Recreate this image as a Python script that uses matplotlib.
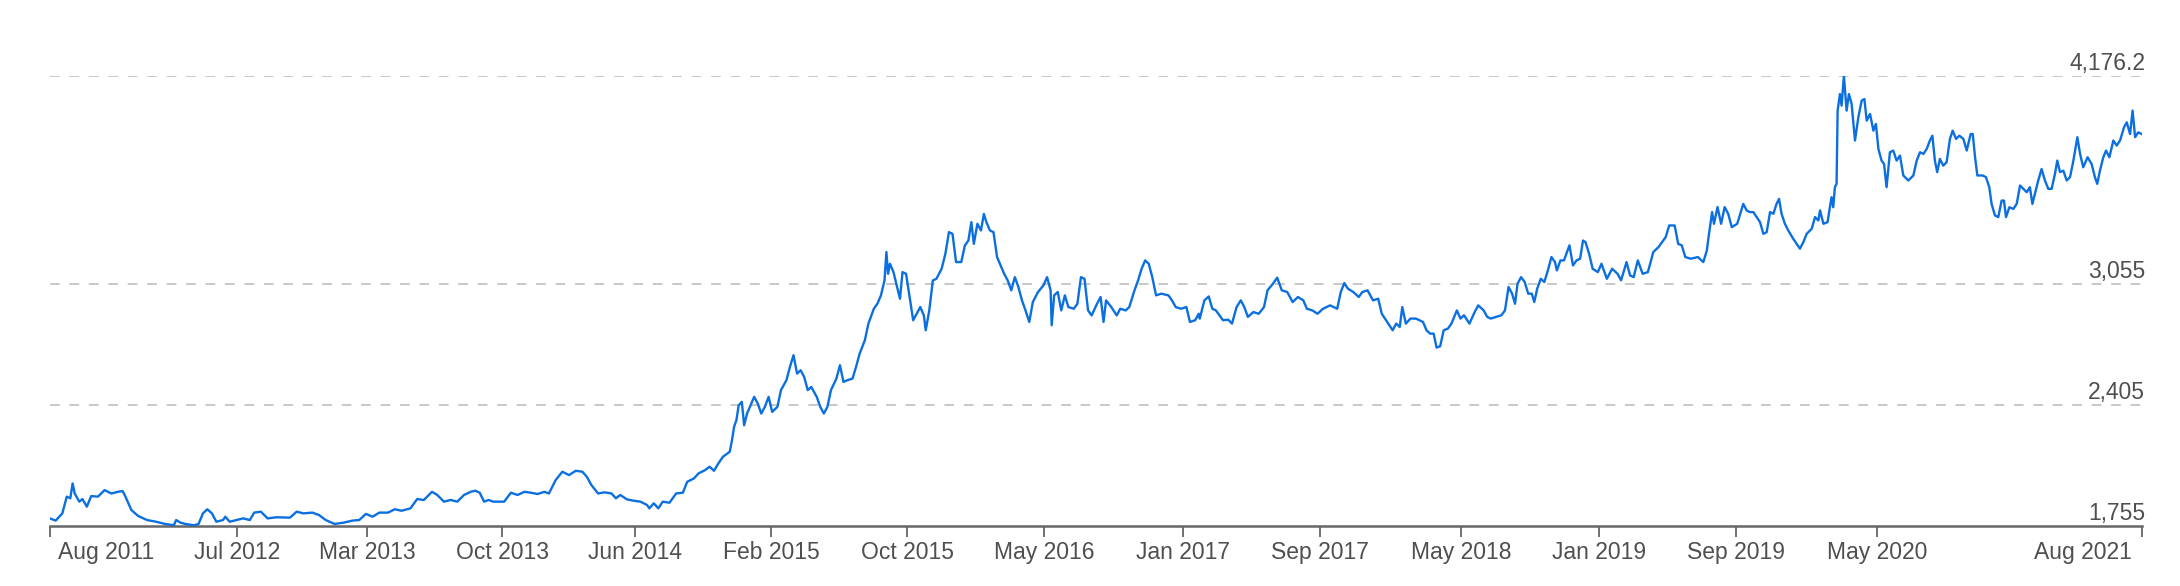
import matplotlib
matplotlib.use("Agg")
import matplotlib.pyplot as plt
from matplotlib.transforms import ScaledTranslation, blended_transform_factory

plt.rcParams['font.family'] = ['Liberation Sans', 'DejaVu Sans']

# series: time as decimal year, index level
years = [
    2011.591, 2011.619, 2011.651, 2011.672, 2011.689, 2011.700, 2011.710, 2011.732, 2011.747, 2011.768,
    2011.789, 2011.821, 2011.853, 2011.885, 2011.917, 2011.939, 2011.949, 2011.981, 2012.013, 2012.056,
    2012.099, 2012.142, 2012.184, 2012.195, 2012.216, 2012.238, 2012.280, 2012.302, 2012.323, 2012.344,
    2012.366, 2012.387, 2012.419, 2012.430, 2012.451, 2012.483, 2012.515, 2012.547, 2012.568, 2012.600,
    2012.632, 2012.675, 2012.739, 2012.771, 2012.803, 2012.846, 2012.878, 2012.910, 2012.952, 2012.995,
    2013.038, 2013.070, 2013.102, 2013.134, 2013.166, 2013.208, 2013.240, 2013.272, 2013.315, 2013.347,
    2013.379, 2013.418, 2013.443, 2013.475, 2013.507, 2013.539, 2013.571, 2013.603, 2013.625, 2013.646,
    2013.667, 2013.689, 2013.710, 2013.763, 2013.795, 2013.827, 2013.860, 2013.891, 2013.923, 2013.955,
    2013.977, 2014.009, 2014.041, 2014.073, 2014.105, 2014.137, 2014.158, 2014.180, 2014.212, 2014.244,
    2014.276, 2014.297, 2014.318, 2014.350, 2014.382, 2014.414, 2014.446, 2014.457, 2014.478, 2014.500,
    2014.521, 2014.553, 2014.585, 2014.617, 2014.638, 2014.670, 2014.692, 2014.724, 2014.745, 2014.766,
    2014.787, 2014.809, 2014.841, 2014.852, 2014.862, 2014.873, 2014.884,
    2014.899, 2014.910, 2014.924, 2014.958, 2014.975, 2014.992, 2015.009, 2015.027, 2015.044, 2015.069,
    2015.086, 2015.112, 2015.129, 2015.146, 2015.163, 2015.180, 2015.197, 2015.214, 2015.231, 2015.257,
    2015.274, 2015.291, 2015.308, 2015.325, 2015.351, 2015.368, 2015.385, 2015.402, 2015.428, 2015.445,
    2015.462, 2015.487, 2015.504, 2015.530, 2015.547, 2015.564, 2015.581, 2015.590, 2015.598, 2015.607,
    2015.624, 2015.641, 2015.655, 2015.667, 2015.684, 2015.701, 2015.718, 2015.735, 2015.752, 2015.769,
    2015.778, 2015.795, 2015.812, 2015.829, 2015.854, 2015.872, 2015.889, 2015.906, 2015.923, 2015.948,
    2015.965, 2015.982, 2015.996, 2016.008, 2016.025, 2016.042, 2016.056, 2016.068, 2016.085, 2016.102,
    2016.119, 2016.136, 2016.153, 2016.170, 2016.187, 2016.204, 2016.221, 2016.238, 2016.255, 2016.273,
    2016.290, 2016.315, 2016.341, 2016.358, 2016.375, 2016.380, 2016.392, 2016.409, 2016.426, 2016.443,
    2016.460, 2016.486, 2016.503, 2016.520, 2016.537, 2016.554, 2016.571, 2016.597, 2016.614, 2016.628,
    2016.640, 2016.665, 2016.691, 2016.708, 2016.734, 2016.751, 2016.776, 2016.793, 2016.810, 2016.827,
    2016.844, 2016.861, 2016.879, 2016.904, 2016.938, 2016.955, 2016.973, 2016.998, 2017.024, 2017.041,
    2017.066, 2017.083,
    2017.088, 2017.110, 2017.131, 2017.148, 2017.165, 2017.199, 2017.224, 2017.242, 2017.264, 2017.284,
    2017.301, 2017.318, 2017.344, 2017.370, 2017.395, 2017.412, 2017.438, 2017.458, 2017.480, 2017.506,
    2017.532, 2017.557, 2017.583, 2017.600, 2017.626, 2017.651, 2017.677, 2017.711, 2017.745, 2017.762,
    2017.779, 2017.796, 2017.822, 2017.848, 2017.865, 2017.890, 2017.916, 2017.941, 2017.958, 2017.984,
    2018.010, 2018.027, 2018.044, 2018.056, 2018.073, 2018.095, 2018.121, 2018.155, 2018.172, 2018.189,
    2018.206, 2018.220, 2018.237, 2018.254, 2018.274, 2018.291, 2018.317, 2018.334, 2018.351, 2018.377,
    2018.402, 2018.419, 2018.445, 2018.462, 2018.479, 2018.505, 2018.530, 2018.547, 2018.564, 2018.581,
    2018.595, 2018.607, 2018.624, 2018.641, 2018.658, 2018.675, 2018.687, 2018.701, 2018.718, 2018.735,
    2018.752, 2018.769, 2018.786, 2018.795, 2018.812, 2018.829, 2018.846, 2018.855, 2018.872, 2018.889,
    2018.906, 2018.920, 2018.932, 2018.949, 2018.966, 2018.991, 2019.008, 2019.034, 2019.059, 2019.085,
    2019.102, 2019.128, 2019.145, 2019.162, 2019.182, 2019.205, 2019.230, 2019.256, 2019.281, 2019.298,
    2019.315, 2019.332, 2019.358, 2019.375, 2019.392, 2019.409, 2019.435, 2019.469, 2019.495, 2019.512,
    2019.520, 2019.537, 2019.546, 2019.563, 2019.580, 2019.597, 2019.614, 2019.631, 2019.657,
    2019.686, 2019.702, 2019.718, 2019.734, 2019.750, 2019.766, 2019.782, 2019.798, 2019.814, 2019.830,
    2019.845, 2019.857, 2019.869, 2019.885, 2019.901, 2019.925, 2019.957, 2019.973, 2019.989, 2020.013,
    2020.029, 2020.045, 2020.053, 2020.069, 2020.089, 2020.100, 2020.108, 2020.116, 2020.124, 2020.132,
    2020.137, 2020.148, 2020.156, 2020.167, 2020.180, 2020.191, 2020.204, 2020.220, 2020.236, 2020.252,
    2020.265, 2020.276, 2020.292, 2020.308, 2020.320, 2020.332, 2020.347, 2020.359, 2020.371, 2020.387,
    2020.403, 2020.419, 2020.435, 2020.451, 2020.475, 2020.499, 2020.515, 2020.531, 2020.547, 2020.563,
    2020.578, 2020.590, 2020.602, 2020.613, 2020.626, 2020.642, 2020.658, 2020.674, 2020.687, 2020.703,
    2020.719, 2020.738, 2020.754, 2020.773, 2020.783, 2020.794, 2020.805, 2020.830, 2020.846, 2020.862,
    2020.873, 2020.889, 2020.905, 2020.921, 2020.932, 2020.942, 2020.958, 2020.977, 2020.993, 2021.009,
    2021.025, 2021.041, 2021.056, 2021.068, 2021.080, 2021.096, 2021.112, 2021.128, 2021.144, 2021.160,
    2021.176, 2021.187, 2021.200, 2021.216, 2021.232, 2021.248, 2021.264, 2021.283, 2021.296, 2021.311,
    2021.332, 2021.351, 2021.367, 2021.378, 2021.391, 2021.407, 2021.420, 2021.436, 2021.455, 2021.471,
    2021.487, 2021.506, 2021.519, 2021.535, 2021.547, 2021.559, 2021.574, 2021.590,
]

levels = [
    1796, 1784, 1823, 1913, 1904, 1984, 1930, 1886, 1900, 1859,
    1916, 1913, 1948, 1930, 1939, 1943, 1922, 1841, 1809, 1787,
    1778, 1766, 1759, 1787, 1773, 1766, 1759, 1766, 1823, 1845,
    1823, 1778, 1787, 1805, 1778, 1787, 1796, 1787, 1827, 1832,
    1796, 1802, 1800, 1832, 1823, 1827, 1814, 1787, 1766, 1773,
    1784, 1787, 1820, 1805, 1827, 1827, 1845, 1837, 1850, 1900,
    1895, 1939, 1922, 1886, 1895, 1886, 1922, 1939, 1945, 1934,
    1886, 1895, 1886, 1886, 1934, 1922, 1939, 1934, 1927, 1939,
    1930, 2002, 2047, 2029, 2052, 2047, 2020, 1975, 1930, 1936,
    1930, 1904, 1922, 1898, 1891, 1886, 1868, 1850, 1877, 1850,
    1886, 1880, 1930, 1934, 1993, 2011, 2038, 2056, 2074, 2052,
    2092, 2128, 2154, 2217, 2289, 2324, 2405,
    2423, 2297, 2360, 2450, 2414, 2360, 2396, 2450, 2369, 2396,
    2486, 2539, 2611, 2674, 2575, 2593, 2557, 2486, 2503, 2450,
    2396, 2360, 2396, 2486, 2548, 2620, 2530, 2539, 2548, 2611,
    2682, 2754, 2844, 2924, 2951, 2996, 3076, 3229, 3112, 3166,
    3121, 3041, 2978, 3121, 3112, 2987, 2862, 2897, 2933, 2888,
    2808, 2915, 3076, 3085, 3139, 3220, 3336, 3327, 3175, 3175,
    3264, 3291, 3390, 3273, 3381, 3345, 3434, 3390, 3345, 3336,
    3202, 3157, 3112, 3076, 3023, 3094, 3041, 2969, 2915, 2853,
    2960, 3014, 3050, 3094, 3023, 2835, 2996, 3014, 2915, 2996,
    2933, 2924, 2951, 3094, 3085, 2915, 2888, 2951, 2987, 2853,
    2969, 2933, 2888, 2924, 2915, 2933, 3023, 3076, 3139, 3184,
    3166, 3094, 2996, 3005, 2996, 2969, 2933, 2924, 2933, 2853,
    2862, 2897,
    2871, 2969, 2990, 2924, 2915, 2862, 2865, 2844, 2933, 2969,
    2933, 2880, 2906, 2897, 2933, 3023, 3059, 3091, 3023, 3014,
    2960, 2987, 2969, 2924, 2915, 2897, 2924, 2942, 2924, 3014,
    3062, 3032, 3014, 2987, 3014, 3023, 2969, 2978, 2897, 2853,
    2808, 2844, 2826, 2933, 2844, 2871, 2871, 2853, 2808, 2790,
    2790, 2715, 2722, 2808, 2817, 2844, 2915, 2871, 2889, 2844,
    2906, 2942, 2915, 2880, 2871, 2880, 2889, 2915, 3041, 3005,
    2951, 3059, 3094, 3068, 3005, 3005, 2960, 3032, 3085, 3068,
    3130, 3202, 3175, 3130, 3184, 3184, 3238, 3265, 3157, 3184,
    3193, 3291, 3282, 3220, 3139, 3121, 3166, 3085, 3139, 3112,
    3077, 3175, 3103, 3094, 3184, 3112, 3121, 3229, 3256, 3282,
    3309, 3372, 3372, 3273, 3265, 3202, 3193, 3202, 3175, 3238,
    3309, 3444, 3381, 3471, 3381, 3471, 3435, 3363, 3381,
    3488, 3453, 3444, 3444, 3417, 3390, 3327, 3336, 3444, 3435,
    3488, 3515, 3435, 3381, 3345, 3300, 3247, 3282, 3327, 3354,
    3417, 3399, 3453, 3381, 3390, 3470, 3524, 3470, 3578, 3596,
    3990, 4079, 4017, 4176.2, 3990, 4079, 4026, 3829, 3954, 4044,
    4052, 3936, 3972, 3882, 3918, 3784, 3721, 3703, 3578, 3766,
    3775, 3721, 3748, 3641, 3614, 3641, 3721, 3766, 3757, 3784,
    3829, 3855, 3721, 3659, 3730, 3694, 3712, 3838, 3882, 3838,
    3855, 3838, 3775, 3864, 3864, 3739, 3641, 3641, 3632, 3578,
    3488, 3426, 3417, 3506, 3506, 3417, 3470, 3461, 3488, 3587,
    3569, 3551, 3578, 3488, 3542, 3614, 3676, 3614, 3569, 3569,
    3650, 3721, 3659, 3667, 3614, 3632, 3721, 3847, 3757, 3685,
    3739, 3703, 3632, 3596, 3667, 3739, 3775, 3739, 3829, 3802,
    3829, 3900, 3927, 3864, 3990, 3847, 3873, 3864,
]

grid_levels = [2405, 3055, 4176.2]
level_labels = ["1,755", "2,405", "3,055", "4,176.2"]
label_levels = [1755, 2405, 3055, 4176.2]

tick_pos = [2011.592, 2012.486, 2013.107, 2013.753, 2014.388, 2015.038, 2015.689, 2016.343,
            2017.008, 2017.663, 2018.337, 2018.996, 2019.651, 2020.325, 2021.592]
tick_labels = ["Aug 2011", "Jul 2012", "Mar 2013", "Oct 2013", "Jun 2014", "Feb 2015", "Oct 2015",
               "May 2016", "Jan 2017", "Sep 2017", "May 2018", "Jan 2019", "Sep 2019", "May 2020",
               "Aug 2021"]

text_color = "#4f4f4f"

fig = plt.figure(figsize=(21.8, 5.86), dpi=100)
ax = fig.add_axes([0.02294, 0.10239, 0.95963, 0.76792])

for g in grid_levels:
    ax.axhline(g, color="#c8c8c8", lw=1.4, linestyle=(0, (5, 5)), zorder=1)

ax.plot(years, levels, color="#0b6fe0", lw=1.7, zorder=3)

ax.set_xlim(2011.592, 2021.592)
ax.set_ylim(1755, 4176.2)

for s in ["left", "right", "top"]:
    ax.spines[s].set_visible(False)
ax.spines["bottom"].set_color("#666666")
ax.spines["bottom"].set_linewidth(1.8)

ax.set_yticks([])
ax.set_xticks(tick_pos)
ax.set_xticklabels(tick_labels)
ax.tick_params(axis="x", length=8, width=1.3, color="#666666", pad=3,
               labelsize=16.5, labelcolor=text_color)

labels = ax.get_xticklabels()
labels[0].set_ha("left")
labels[0].set_transform(labels[0].get_transform() + ScaledTranslation(0.08, 0, fig.dpi_scale_trans))
labels[-1].set_ha("right")
labels[-1].set_transform(labels[-1].get_transform() + ScaledTranslation(-0.10, 0, fig.dpi_scale_trans))

trans = blended_transform_factory(ax.transAxes, ax.transData) + ScaledTranslation(0.03, 0.06, fig.dpi_scale_trans)
for lv, lab in zip(label_levels, level_labels):
    ax.text(1.0, lv, lab, transform=trans, ha="right", va="baseline",
            fontsize=16.5, color=text_color, clip_on=False)

fig.savefig("out.png", dpi=100, facecolor="white")
